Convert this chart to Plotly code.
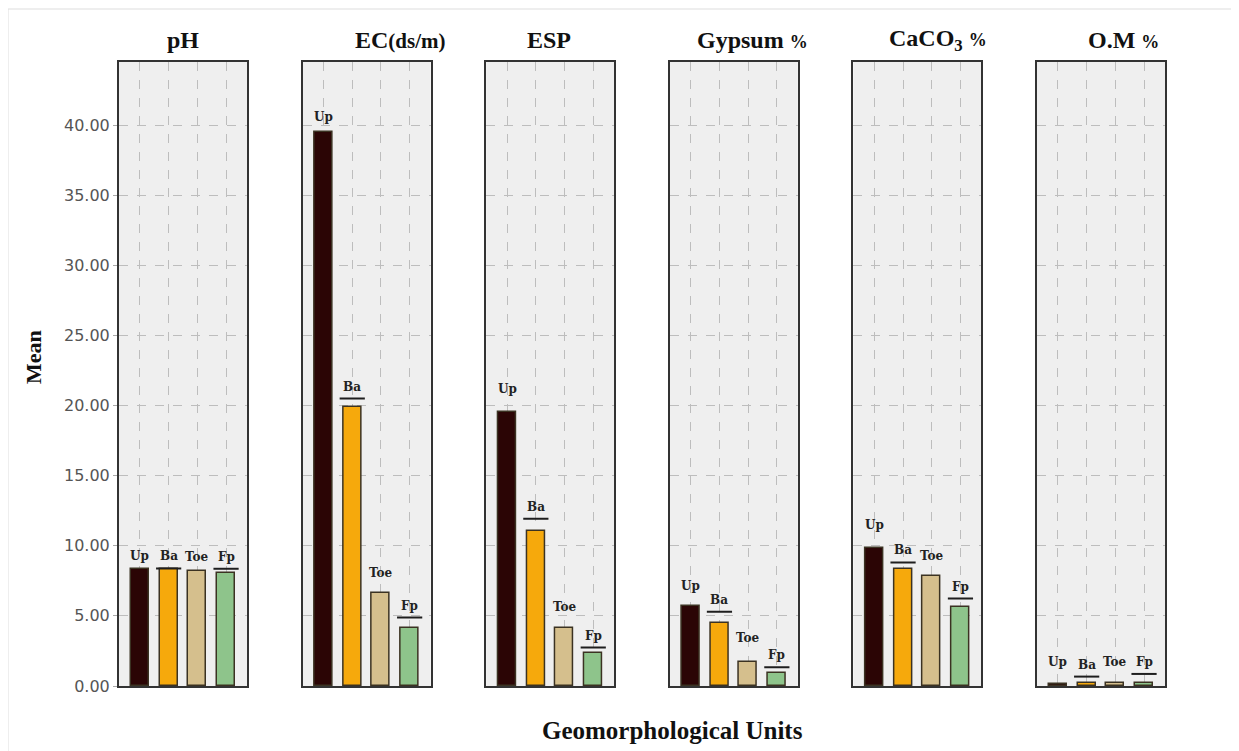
import plotly.graph_objects as go
from plotly.subplots import make_subplots

# ---- data ----
units = ["Up", "Ba", "Toe", "Fp"]
unit_colors = ["#2b0505", "#f6a90c", "#d5bf8d", "#8ec48b"]

panel_titles = [
    "pH",
    "EC<span style='font-size:21px'>(ds/m)</span>",
    "ESP",
    "Gypsum <span style='font-size:18px'>%</span>",
    "CaCO<sub>3</sub> <span style='font-size:18px'>%</span>",
    "O.M <span style='font-size:18px'>%</span>",
]

ph_mean = [8.33, 8.35, 8.21, 8.09]
ec_mean = [39.50, 19.90, 6.66, 4.12]
esp_mean = [19.55, 11.07, 4.12, 2.33]
gypsum_mean = [5.71, 4.48, 1.74, 0.90]
caco3_mean = [9.83, 8.36, 7.83, 5.62]
om_mean = [0.15, 0.20, 0.20, 0.20]

# upper confidence limits (used for caps and label placement)
ph_upper = [8.38, 8.38, 8.36, 8.36]
ec_upper = [39.70, 20.50, 7.20, 4.88]
esp_upper = [20.30, 11.93, 4.80, 2.74]
gypsum_upper = [6.25, 5.29, 2.55, 1.33]
caco3_upper = [10.65, 8.81, 8.40, 6.24]
om_upper = [0.85, 0.67, 0.85, 0.86]

cap_units = ["Ba", "Fp"]  # units whose upper cap is drawn

means = [ph_mean, ec_mean, esp_mean, gypsum_mean, caco3_mean, om_mean]
uppers = [ph_upper, ec_upper, esp_upper, gypsum_upper, caco3_upper, om_upper]

y_ticks = [0, 5, 10, 15, 20, 25, 30, 35, 40]

# ---- figure ----
OFF = 8  # page body margin of the browser
W, H = 1239 - OFF, 751 - OFF
ML, MR, MT, MB = 119 - OFF, 74, 62 - OFF, 65
plot_w = W - ML - MR
plot_h = H - MT - MB


def px_x(px):
    return (px - OFF - ML) / plot_w


def px_y(py):
    return (H - MB - (py - OFF)) / plot_h


fig = make_subplots(rows=1, cols=6, shared_yaxes=True,
                    horizontal_spacing=55.6 / plot_w)

serif = "Liberation Serif, Times New Roman, serif"
xs = list(range(len(units)))

for c, (m, u) in enumerate(zip(means, uppers), start=1):
    fig.add_trace(go.Bar(
        x=xs, y=m, width=0.62,
        marker=dict(color=unit_colors, line=dict(color="#3b3222", width=1.5)),
        showlegend=False, hoverinfo="skip",
    ), row=1, col=c)
    cx = [xs[i] for i in range(len(units)) if units[i] in cap_units]
    cy = [u[i] for i in range(len(units)) if units[i] in cap_units]
    fig.add_trace(go.Scatter(
        x=cx, y=cy, mode="markers",
        marker=dict(symbol="line-ew", size=18, line=dict(color="#1e1e1e", width=2)),
        showlegend=False, hoverinfo="skip",
    ), row=1, col=c)
    xref = "x" if c == 1 else f"x{c}"
    yref = "y" if c == 1 else f"y{c}"
    for i, lab in enumerate(units):
        fig.add_annotation(
            x=xs[i], y=max(m[i], u[i]), xref=xref, yref=yref,
            text=f"<b>{lab}</b>", showarrow=False, yanchor="bottom", yshift=3,
            font=dict(family="DejaVu Serif, serif", size=12, color="#222"),
        )

for c in range(1, 7):
    fig.update_xaxes(
        range=[-0.73, 3.73], tickvals=xs, showticklabels=False,
        showgrid=True, gridcolor="#bdbdbd", griddash="dash", gridwidth=1,
        showline=True, mirror=True, linecolor="#333333", linewidth=2,
        zeroline=False, ticks="", row=1, col=c,
    )
    fig.update_yaxes(
        range=[0, 44.5], tickvals=y_ticks, tickformat=".2f",
        showgrid=True, gridcolor="#bdbdbd", griddash="dash", gridwidth=1,
        showline=True, mirror=True, linecolor="#333333", linewidth=2,
        zeroline=False, ticks="outside" if c == 1 else "", ticklen=4,
        tickcolor="#aaaaaa",
        tickfont=dict(family="DejaVu Sans, sans-serif", size=16, color="#555555"),
        row=1, col=c,
    )

# panel titles
title_px = [183, 400, 549, 752, 938, 1123]
for t, px in zip(panel_titles, title_px):
    fig.add_annotation(
        x=px_x(px), y=px_y(40), xref="paper", yref="paper",
        text=f"<b>{t}</b>", showarrow=False, xanchor="center", yanchor="middle",
        font=dict(family=serif, size=24, color="#111"),
    )

# axis titles
fig.add_annotation(
    x=px_x(33), y=px_y(357), xref="paper", yref="paper",
    text="<b>Mean</b>", showarrow=False, textangle=-90,
    xanchor="center", yanchor="middle",
    font=dict(family=serif, size=22, color="#111"),
)
fig.add_annotation(
    x=px_x(672), y=px_y(730), xref="paper", yref="paper",
    text="<b>Geomorphological Units</b>", showarrow=False,
    xanchor="center", yanchor="middle",
    font=dict(family=serif, size=25, color="#111"),
)

# faint outer frame (top and left edges)
fig.add_shape(type="line", xref="paper", yref="paper", x0=px_x(8), x1=px_x(1239),
              y0=px_y(9), y1=px_y(9), line=dict(color="#dddddd", width=1))
fig.add_shape(type="line", xref="paper", yref="paper", x0=px_x(8), x1=px_x(8),
              y0=px_y(9), y1=px_y(751), line=dict(color="#dddddd", width=1))

fig.update_layout(
    width=W, height=H,
    margin=dict(l=ML, r=MR, t=MT, b=MB),
    paper_bgcolor="white", plot_bgcolor="#efefef",
    bargap=0, showlegend=False,
)

fig.write_html("out.html")
